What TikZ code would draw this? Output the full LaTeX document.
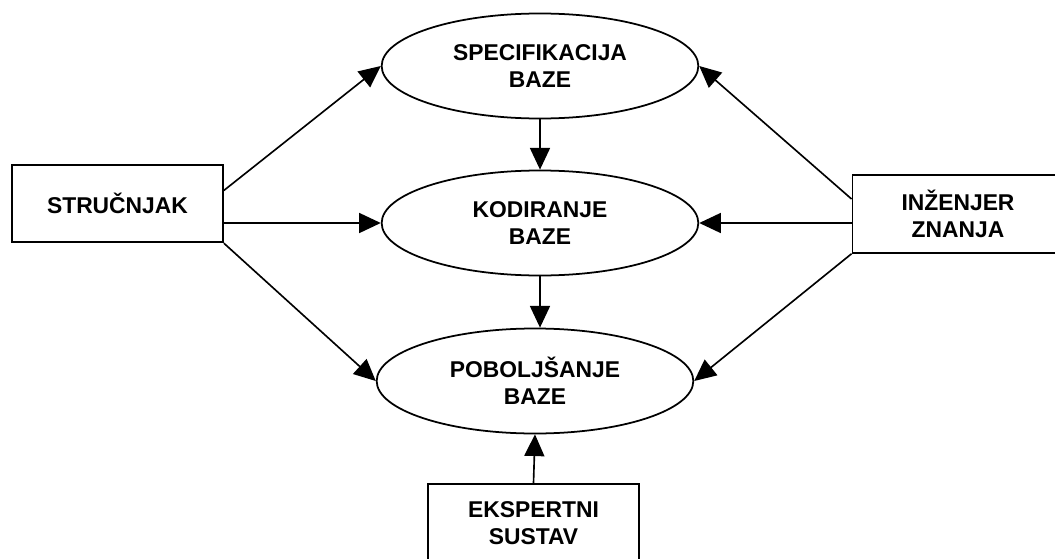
\documentclass[tikz,border=0pt]{standalone}
\usepackage{fontspec}
\setmainfont{Liberation Sans}
\usetikzlibrary{arrows.meta,shapes.geometric,positioning}
\tikzset{
  baza/.style={
      ellipse,
      draw,
      line width=1.5pt,
      inner sep=0pt,
      minimum width=9.5cm,
      minimum height=3.15cm,
      align=center,
      font=\fontsize{19.5}{23}\selectfont\bfseries
  },
  sudionik/.style={
      rectangle,
      draw,
      line width=1.5pt,
      inner sep=0pt,
      minimum width=6.33cm,
      minimum height=2.33cm,
      align=center,
      font=\fontsize{19.5}{23}\selectfont\bfseries
  },
  tok/.style={
      line width=1.4pt,
      -{Triangle[length=6.5mm,width=6mm]}
  }
}
\begin{document}
\begin{tikzpicture}[x=0.03cm,y=-0.03cm]
    \useasboundingbox (0,0) rectangle (1055,559);
    % baze
    \node[baza] (spec) at (540,66) {SPECIFIKACIJA\\BAZE};
    \node[baza] (kod) at (540,223) {KODIRANJE\\BAZE};
    \node[baza] (pob) at (535,381) {POBOLJŠANJE\\BAZE};
    % sudionici
    \node[sudionik] (strucnjak) at (117.5,203.5) {STRUČNJAK};
    \node[sudionik] (inzenjer) at (958,214) {INŽENJER\\ZNANJA};
    \node[sudionik] (sustav) at (533.5,523) {EKSPERTNI\\SUSTAV};
    % tokovi
    \draw[tok] (strucnjak.7) -- (spec.west);
    \draw[tok] (strucnjak.east |- kod.west) -- (kod.west);
    \draw[tok] (strucnjak.south east) -- (pob.west);
    \draw[tok] (inzenjer.172) -- (spec.east);
    \draw[tok] (inzenjer.west |- kod.east) -- (kod.east);
    \draw[tok] (inzenjer.south west) -- (pob.east);
    \draw[tok] (spec.south) -- (kod.north);
    \draw[tok] (kod.south) -- (kod.south |- pob.north);
    \draw[tok] (sustav.north) -- (pob.south);
\end{tikzpicture}
\end{document}
